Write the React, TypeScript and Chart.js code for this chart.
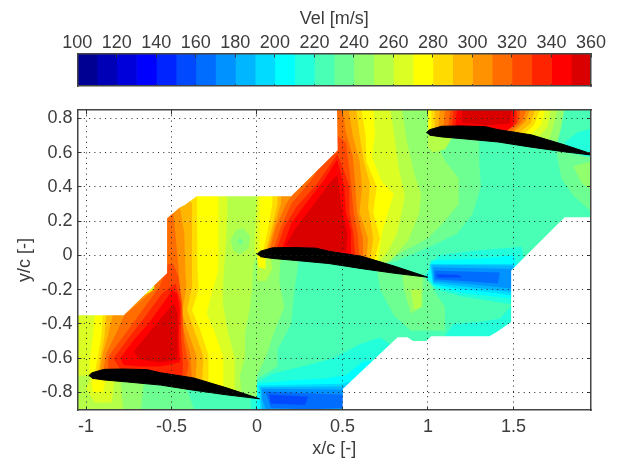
import React, { useEffect, useRef } from "react";
import { Chart, registerables } from "chart.js";

Chart.register(...registerables);

type P = [number, number];

const FONT = "'Liberation Sans', Arial, sans-serif";
const TEXT = "#3c3c3c";

const xTicks = [-1, -0.5, 0, 0.5, 1, 1.5];
const yTicks = [-0.8, -0.6, -0.4, -0.2, 0, 0.2, 0.4, 0.6, 0.8];
const barTicks = [100, 120, 140, 160, 180, 200, 220, 240, 260, 280, 300, 320, 340, 360];

// lower edge of every velocity band, with its colour
const bandEdges = [100, 110, 120, 130, 140, 150, 160, 170, 180, 190, 200, 210, 220, 230, 240, 250, 260, 270, 280, 290, 300, 310, 320, 330, 340, 350];
const bandColors = [
  "rgb(0,0,146)", "rgb(0,0,182)", "rgb(0,0,219)", "rgb(0,0,255)", "rgb(0,36,255)", "rgb(0,73,255)",
  "rgb(0,109,255)", "rgb(0,146,255)", "rgb(0,182,255)", "rgb(0,219,255)", "rgb(0,255,255)", "rgb(36,255,219)",
  "rgb(73,255,182)", "rgb(109,255,146)", "rgb(146,255,109)", "rgb(182,255,73)", "rgb(219,255,36)", "rgb(255,255,0)",
  "rgb(255,219,0)", "rgb(255,182,0)", "rgb(255,146,0)", "rgb(255,109,0)", "rgb(255,73,0)", "rgb(255,36,0)",
  "rgb(255,0,0)", "rgb(219,0,0)",
];

// measured field: iso-velocity regions, x/c and y/c, painted in order
const fieldBase: P[] = [[-1.06, -0.92], [1.96, -0.92], [1.96, 0.86], [-1.06, 0.86]];

const above230: P[] = [[-0.1, 0.86], [1.0, 0.86], [1.0, 0.7], [1.3, 0.68], [1.3, 0.55], [1.31, 0.4], [1.26, 0.24], [1.17, 0.126], [1.01, 0.05], [0.82, -0.03], [0.72, -0.06], [0.6, -0.04], [0.4, -0.01], [0, 0], [-0.1, 0]];
const above240: P[] = [[-1.06, 0.86], [1.0, 0.86], [1.04, 0.68], [1.1, 0.55], [1.18, 0.45], [1.18, 0.3], [1.1, 0.2], [1.0, 0.1], [0.85, 0.02], [0.72, -0.06], [0.6, -0.04], [0.4, -0.01], [0.2, 0.005], [0, 0], [0, -0.84], [-1.06, -0.84]];
const above250: P[] = [[-1.06, 0.86], [0.847, 0.86], [0.876, 0.67], [0.92, 0.476], [0.96, 0.36], [0.95, 0.25], [0.885, 0.087], [0.78, -0.03], [0.72, -0.06], [0.6, -0.04], [0.4, -0.01], [0.2, 0.005], [0, 0], [-0.02, -0.05], [-0.03, -0.2], [-0.04, -0.3], [-0.07, -0.45], [-0.07, -0.6], [-0.1, -0.7], [-0.09, -0.82], [-1.06, -0.82]];
const bubble240: P[] = [[-0.155, 0.09], [-0.12, 0.15], [-0.08, 0.16], [-0.04, 0.11], [-0.05, 0.04], [-0.1, 0.005], [-0.14, 0.03]];
const bubble230: P[] = [[-0.115, 0.08], [-0.1, 0.1], [-0.08, 0.08], [-0.09, 0.06]];

const a260: P[] = [[-1.06, 0.86], [-0.158, 0.86], [-0.178, 0.126], [-0.197, -0.146], [-0.2, -0.28], [-0.17, -0.45], [-0.13, -0.6], [-0.13, -0.8], [-1.06, -0.8]];
const a270: P[] = [[-0.95, -0.35], [-0.96, -0.476], [-0.979, -0.611], [-0.979, -0.728], [-0.197, -0.8], [-0.197, -0.592], [-0.245, -0.456], [-0.294, -0.339], [-0.265, -0.223], [-0.226, -0.087], [-0.226, 0.36], [-0.6, 0.36], [-0.6, -0.2]];
const a280: P[] = [[-0.902, -0.35], [-0.911, -0.476], [-0.931, -0.592], [-0.95, -0.695], [-0.8, -0.69], [-0.6, -0.71], [-0.4, -0.745], [-0.284, -0.775], [-0.284, -0.582], [-0.332, -0.437], [-0.38, -0.32], [-0.342, -0.203], [-0.348, -0.087], [-0.352, 0.36], [-0.6, 0.36], [-0.6, -0.2]];
const a290: P[] = [[-0.882, -0.35], [-0.892, -0.476], [-0.911, -0.582], [-0.931, -0.695], [-0.8, -0.69], [-0.6, -0.71], [-0.4, -0.745], [-0.323, -0.765], [-0.313, -0.592], [-0.361, -0.456], [-0.409, -0.32], [-0.38, -0.184], [-0.38, -0.087], [-0.38, 0.301], [-0.42, 0.36], [-0.6, 0.36], [-0.6, -0.2]];
const a300: P[] = [[-0.844, -0.35], [-0.873, -0.476], [-0.902, -0.572], [-0.921, -0.695], [-0.8, -0.69], [-0.6, -0.71], [-0.4, -0.745], [-0.36, -0.755], [-0.352, -0.592], [-0.4, -0.456], [-0.438, -0.339], [-0.413, -0.184], [-0.419, -0.087], [-0.425, 0.126], [-0.448, 0.262], [-0.47, 0.36], [-0.6, 0.36], [-0.6, -0.2]];
const a310: P[] = [[-0.776, -0.35], [-0.824, -0.456], [-0.882, -0.572], [-0.902, -0.695], [-0.8, -0.69], [-0.6, -0.71], [-0.38, -0.75], [-0.39, -0.582], [-0.429, -0.437], [-0.444, -0.32], [-0.458, -0.165], [-0.458, -0.087], [-0.477, 0.126], [-0.487, 0.223], [-0.5, 0.36], [-0.6, 0.36], [-0.6, -0.2]];
const a320: P[] = [[-0.87, -0.592], [-0.77, -0.456], [-0.67, -0.32], [-0.57, -0.184], [-0.52, -0.05], [-0.49, -0.05], [-0.458, -0.126], [-0.438, -0.281], [-0.429, -0.495], [-0.4, -0.64], [-0.42, -0.74], [-0.6, -0.71], [-0.8, -0.69], [-0.87, -0.69]];
const a330: P[] = [[-0.84, -0.602], [-0.745, -0.476], [-0.655, -0.359], [-0.555, -0.223], [-0.477, -0.165], [-0.444, -0.281], [-0.444, -0.476], [-0.433, -0.631], [-0.44, -0.74], [-0.564, -0.7], [-0.79, -0.68]];
const a340: P[] = [[-0.8, -0.6], [-0.72, -0.495], [-0.635, -0.398], [-0.55, -0.281], [-0.496, -0.204], [-0.467, -0.223], [-0.452, -0.32], [-0.458, -0.476], [-0.452, -0.625], [-0.564, -0.65], [-0.68, -0.65], [-0.78, -0.64]];
const a350: P[] = [[-0.72, -0.56], [-0.635, -0.456], [-0.555, -0.359], [-0.487, -0.281], [-0.464, -0.339], [-0.467, -0.476], [-0.464, -0.61], [-0.564, -0.625], [-0.69, -0.61]];

const b260: P[] = [[-0.014, 0.03], [0, 0.36], [0, 0.86], [0.78, 0.86], [0.808, 0.67], [0.828, 0.515], [0.865, 0.35], [0.845, 0.243], [0.818, 0.126], [0.77, 0.029], [0.7, -0.06], [0.4, -0.01], [0.2, 0.005], [0, 0]];
const b270: P[] = [[0.015, 0.03], [0.015, 0.86], [0.68, 0.86], [0.69, 0.709], [0.672, 0.573], [0.73, 0.43], [0.8, 0.36], [0.77, 0.262], [0.73, 0.126], [0.72, 0.049], [0.7, -0.06], [0.4, -0.01], [0.2, 0.005], [0.05, 0]];
const b280: P[] = [[0.035, 0.02], [0.06, 0.13], [0.09, 0.3], [0.1, 0.86], [0.61, 0.86], [0.635, 0.7], [0.64, 0.55], [0.7, 0.4], [0.68, 0.25], [0.72, 0.1], [0.68, -0.055], [0.4, -0.01], [0.2, 0.005]];
const b290: P[] = [[0.05, 0.02], [0.08, 0.13], [0.12, 0.3], [0.13, 0.86], [0.58, 0.86], [0.6, 0.7], [0.625, 0.55], [0.66, 0.42], [0.65, 0.28], [0.68, 0.1], [0.66, -0.05], [0.4, -0.01], [0.2, 0.005]];
const b300: P[] = [[0.06, 0.02], [0.09, 0.13], [0.14, 0.3], [0.16, 0.86], [0.535, 0.86], [0.56, 0.7], [0.6, 0.55], [0.615, 0.4], [0.6, 0.25], [0.65, 0.1], [0.64, -0.04], [0.4, -0.01], [0.2, 0.005]];
const b310: P[] = [[0.07, 0.02], [0.11, 0.165], [0.17, 0.3], [0.2, 0.345], [0.25, 0.86], [0.5, 0.86], [0.52, 0.72], [0.56, 0.58], [0.575, 0.42], [0.585, 0.25], [0.62, 0.1], [0.62, -0.03], [0.4, -0.01], [0.2, 0.005]];
const b320: P[] = [[0.09, 0.02], [0.14, 0.165], [0.2, 0.3], [0.33, 0.456], [0.47, 0.7], [0.52, 0.66], [0.55, 0.42], [0.565, 0.25], [0.59, 0.12], [0.6, -0.03], [0.4, -0.01], [0.2, 0.005]];
const b330: P[] = [[0.11, 0.02], [0.16, 0.165], [0.23, 0.282], [0.35, 0.417], [0.47, 0.59], [0.5, 0.52], [0.54, 0.4], [0.54, 0.25], [0.565, 0.12], [0.575, -0.02], [0.4, -0.01], [0.2, 0.005]];
const b340: P[] = [[0.14, 0.02], [0.2, 0.184], [0.27, 0.282], [0.39, 0.437], [0.469, 0.56], [0.51, 0.4], [0.52, 0.25], [0.55, 0.14], [0.55, -0.02], [0.4, -0.005], [0.2, 0.01]];
const b350: P[] = [[0.17, 0.06], [0.23, 0.165], [0.32, 0.282], [0.42, 0.417], [0.47, 0.47], [0.5, 0.25], [0.53, 0.12], [0.52, 0.02], [0.4, 0.03], [0.25, 0.04]];

const c240: P[] = [[0.995, 0.71], [0.995, 0.86], [1.8, 0.86], [1.78, 0.75], [1.75, 0.63], [1.59, 0.67], [1.39, 0.7], [1.19, 0.72]];
const c250: P[] = [[1.0, 0.71], [1.0, 0.86], [1.76, 0.86], [1.74, 0.78], [1.7, 0.64], [1.59, 0.67], [1.39, 0.7], [1.19, 0.72]];
const c260: P[] = [[1.0, 0.71], [1.0, 0.86], [1.72, 0.86], [1.7, 0.75], [1.62, 0.66], [1.39, 0.7], [1.19, 0.72]];
const c270: P[] = [[1.005, 0.71], [1.0, 0.86], [1.69, 0.86], [1.66, 0.76], [1.57, 0.675], [1.39, 0.7], [1.19, 0.72]];
const c280: P[] = [[1.02, 0.72], [1.02, 0.86], [1.66, 0.86], [1.62, 0.76], [1.53, 0.68], [1.39, 0.7], [1.19, 0.72]];
const c290: P[] = [[1.04, 0.73], [1.04, 0.86], [1.63, 0.86], [1.6, 0.77], [1.5, 0.69], [1.39, 0.7], [1.19, 0.72]];
const c300: P[] = [[1.06, 0.73], [1.07, 0.86], [1.6, 0.86], [1.57, 0.78], [1.47, 0.69], [1.39, 0.7], [1.19, 0.72]];
const c310: P[] = [[1.09, 0.73], [1.1, 0.86], [1.58, 0.86], [1.55, 0.78], [1.45, 0.69], [1.39, 0.7], [1.19, 0.72]];
const c320: P[] = [[1.12, 0.73], [1.13, 0.86], [1.54, 0.86], [1.53, 0.78], [1.43, 0.7], [1.19, 0.72]];
const c330: P[] = [[1.14, 0.74], [1.15, 0.86], [1.52, 0.86], [1.52, 0.77], [1.42, 0.7], [1.19, 0.72]];
const c340: P[] = [[1.16, 0.75], [1.17, 0.86], [1.51, 0.86], [1.5, 0.76], [1.42, 0.7], [1.19, 0.72]];
const c350: P[] = [[1.2, 0.775], [1.2, 0.86], [1.49, 0.86], [1.48, 0.77], [1.35, 0.76]];
const cRight210: P[] = [[1.8, 0.66], [1.88, 0.72], [1.96, 0.74], [1.96, 0.57], [1.85, 0.6]];
const cBelow230: P[] = [[1.75, 0.61], [1.96, 0.57], [1.96, 0.25], [1.85, 0.35], [1.78, 0.45]];
const cBelow240: P[] = [[1.85, 0.52], [1.96, 0.55], [1.96, 0.38], [1.9, 0.42]];
const cUnder250: P[] = [[1.0, 0.7], [1.15, 0.7], [1.1, 0.62], [1.03, 0.6], [1.0, 0.63]];

const underB220: P[] = [[0, 0], [0.2, 0.005], [0.4, -0.01], [0.6, -0.04], [0.8, -0.09], [1.0, -0.13], [1.0, -0.92], [0, -0.92]];
const underB230L: P[] = [[0, 0], [0.25, 0.005], [0.22, -0.2], [0.2, -0.4], [0.12, -0.55], [0.12, -0.65], [0, -0.72]];
const underB230R: P[] = [[0.7, -0.07], [1.0, -0.13], [1.03, -0.2], [1.1, -0.3], [1.1, -0.44], [0.9, -0.44], [0.8, -0.35], [0.72, -0.2]];
const underB240L: P[] = [[0, 0], [0.14, 0.005], [0.13, -0.15], [0.16, -0.3], [0.1, -0.45], [0.05, -0.6], [0, -0.7]];
const underB240R: P[] = [[0.85, -0.1], [0.97, -0.125], [0.97, -0.3], [0.9, -0.34], [0.86, -0.2]];
const underB250L: P[] = [[0, 0], [0.08, 0.005], [0.09, -0.08], [0.05, -0.15], [0, -0.15]];
const underB250R: P[] = [[0.9, -0.2], [0.96, -0.2], [0.96, -0.3], [0.92, -0.32]];
const underB270: P[] = [[0, 0], [0.05, 0], [0.05, -0.08], [0.01, -0.07]];

const underA240: P[] = [[-0.97, -0.705], [-0.8, -0.7], [-0.6, -0.72], [-0.4, -0.75], [-0.2, -0.8], [0.02, -0.84], [0.02, -0.92], [-1.06, -0.92], [-1.06, -0.72]];
const underA250: P[] = [[-1.06, -0.7], [-0.97, -0.705], [-0.8, -0.7], [-0.78, -0.92], [-1.06, -0.92]];
const underA260: P[] = [[-0.97, -0.705], [-0.83, -0.7], [-0.85, -0.86], [-0.95, -0.86], [-1.0, -0.78]];
const underA270: P[] = [[-0.97, -0.705], [-0.88, -0.7], [-0.9, -0.8], [-0.96, -0.8]];
const underA230: P[] = [[-0.66, -0.72], [-0.4, -0.75], [-0.2, -0.8], [0.02, -0.84], [0.02, -0.92], [-0.68, -0.92]];
const underA220: P[] = [[-0.42, -0.76], [-0.2, -0.8], [0.02, -0.84], [0.02, -0.92], [-0.36, -0.92]];
const underA210: P[] = [[-0.04, -0.82], [0.02, -0.84], [0.02, -0.92], [-0.03, -0.92]];

const wakeA210: P[] = [[0.09, -0.69], [0.3, -0.64], [0.45, -0.6], [0.6, -0.52], [0.72, -0.48], [0.9, -0.6], [0.7, -0.92], [0, -0.92], [0, -0.74]];
const wakeA200: P[] = [[0, -0.75], [0.2, -0.73], [0.4, -0.72], [0.52, -0.7], [0.62, -0.62], [0.9, -0.6], [0.7, -0.92], [0, -0.92]];
const wakeA190: P[] = [[0.01, -0.76], [0.5, -0.75], [0.6, -0.72], [0.6, -0.92], [0.02, -0.92]];
const wakeA180: P[] = [[0.02, -0.77], [0.55, -0.765], [0.55, -0.92], [0.03, -0.92]];
const wakeA170: P[] = [[0.03, -0.78], [0.55, -0.785], [0.55, -0.92], [0.06, -0.92], [0.03, -0.84]];
const wakeA160: P[] = [[0.05, -0.795], [0.51, -0.815], [0.51, -0.89], [0.3, -0.9], [0.08, -0.89]];
const wakeA150: P[] = [[0.07, -0.815], [0.3, -0.825], [0.28, -0.875], [0.08, -0.865]];

const wakeB210: P[] = [[0.98, -0.12], [1.06, 0], [1.3, 0.03], [1.55, 0.05], [1.6, -0.3], [1.45, -0.28], [1.2, -0.24], [1.05, -0.2], [1.0, -0.15]];
const wakeB200: P[] = [[1.0, -0.13], [1.02, -0.03], [1.3, -0.02], [1.5, 0], [1.6, -0.28], [1.48, -0.25], [1.2, -0.22], [1.04, -0.18]];
const wakeB190: P[] = [[1.01, -0.05], [1.5, -0.05], [1.6, -0.25], [1.4, -0.22], [1.2, -0.2], [1.03, -0.17]];
const wakeB180: P[] = [[1.02, -0.055], [1.5, -0.06], [1.6, -0.23], [1.45, -0.21], [1.2, -0.18], [1.03, -0.16]];
const wakeB170: P[] = [[1.03, -0.07], [1.5, -0.08], [1.6, -0.21], [1.45, -0.19], [1.2, -0.165], [1.035, -0.15]];
const wakeB160: P[] = [[1.04, -0.09], [1.42, -0.1], [1.41, -0.165], [1.2, -0.15], [1.04, -0.14]];
const wakeB150: P[] = [[1.05, -0.11], [1.18, -0.115], [1.2, -0.13], [1.06, -0.13]];
const edge210: P[] = [[1.1, -0.47], [1.15, -0.4], [1.3, -0.39], [1.42, -0.37], [1.5, -0.28], [1.5, -0.5], [1.1, -0.5]];

// areas without measurements
const emptyUpper: P[] = [[-1.06, 0.87], [-1.06, -0.35], [-0.78, -0.35], [-0.57, -0.146], [-0.526, -0.105], [-0.526, 0.216], [-0.452, 0.28], [-0.42, 0.295], [-0.353, 0.345], [0.2, 0.345], [0.472, 0.614], [0.468, 0.87]];
const emptyLower: P[] = [[1.97, 0.222], [1.8, 0.222], [1.487, -0.088], [1.487, -0.39], [1.4, -0.449], [1.36, -0.472], [1.02, -0.472], [0.99, -0.5], [0.913, -0.5], [0.88, -0.478], [0.823, -0.478], [0.503, -0.78], [0.5, -0.92], [1.97, -0.92]];

// blade sections
const bladeA: P[] = [[-0.985, -0.704], [-0.965, -0.686], [-0.895, -0.666], [-0.785, -0.664], [-0.641, -0.668], [-0.564, -0.686], [-0.371, -0.716], [-0.178, -0.774], [0.015, -0.838], [-0.178, -0.815], [-0.371, -0.788], [-0.564, -0.758], [-0.757, -0.74], [-0.895, -0.728], [-0.965, -0.718]];
const bladeB: P[] = [[0, 0.006], [0.02, 0.024], [0.09, 0.044], [0.2, 0.046], [0.344, 0.042], [0.421, 0.024], [0.614, -0.006], [0.807, -0.064], [1.0, -0.128], [0.807, -0.105], [0.614, -0.078], [0.421, -0.048], [0.228, -0.03], [0.09, -0.018], [0.02, -0.008]];
const bladeC: P[] = [[0.99, 0.716], [1.01, 0.734], [1.08, 0.754], [1.19, 0.756], [1.334, 0.752], [1.411, 0.734], [1.604, 0.704], [1.797, 0.646], [1.99, 0.582], [1.797, 0.605], [1.604, 0.632], [1.411, 0.662], [1.218, 0.68], [1.08, 0.692], [1.01, 0.702]];

const layerLevels: number[] = [
  220, 230, 240, 250, 240, 230,
  260, 270, 280, 290, 300, 310, 320, 330, 340, 350,
  260, 270, 280, 290, 300, 310, 320, 330, 340, 350,
  240, 250, 260, 270, 280, 290, 300, 310, 320, 330, 340, 350,
  210, 230, 240, 250,
  220, 230, 230, 240, 240, 250, 250, 270,
  240, 250, 260, 270, 230, 220, 210,
  210, 200, 190, 180, 170, 160, 150,
  210, 200, 190, 180, 170, 160, 150, 210,
];
const layerPaths: P[][] = [
  fieldBase, above230, above240, above250, bubble240, bubble230,
  a260, a270, a280, a290, a300, a310, a320, a330, a340, a350,
  b260, b270, b280, b290, b300, b310, b320, b330, b340, b350,
  c240, c250, c260, c270, c280, c290, c300, c310, c320, c330, c340, c350,
  cRight210, cBelow230, cBelow240, cUnder250,
  underB220, underB230L, underB230R, underB240L, underB240R, underB250L, underB250R, underB270,
  underA240, underA250, underA260, underA270, underA230, underA220, underA210,
  wakeA210, wakeA200, wakeA190, wakeA180, wakeA170, wakeA160, wakeA150,
  wakeB210, wakeB200, wakeB190, wakeB180, wakeB170, wakeB160, wakeB150, edge210,
];
const emptyPaths: P[][] = [emptyUpper, emptyLower];
const bladePaths: P[][] = [bladeA, bladeB, bladeC];

const region = (path: P[], color: string) => ({
  data: path.map(([x, y]) => ({ x, y })),
  showLine: true,
  fill: "shape",
  tension: 0,
  backgroundColor: color,
  borderColor: color,
  borderWidth: 0,
  pointRadius: 0,
});

const tickLabel = (v: number | string) => String(Math.round(Number(v) * 100) / 100);

export default function App() {
  const barRef = useRef<HTMLCanvasElement>(null);
  const mainRef = useRef<HTMLCanvasElement>(null);

  useEffect(() => {
    const tickFont = { family: FONT, size: 18 };

    const ordered = [
      ...layerPaths.map((p, i) => region(p, bandColors[bandEdges.indexOf(layerLevels[i])])),
      ...emptyPaths.map((p) => region(p, "#ffffff")),
      ...bladePaths.map((p) => ({ ...region(p, "#000000"), borderWidth: 1 })),
    ];

    const hiddenAxis = (position: string, min: number, max: number, ticks: number[], dash: number[], vertical: boolean) => ({
      type: "linear",
      position,
      min,
      max,
      afterBuildTicks: (s: any) => { s.ticks = ticks.map((value) => ({ value })); },
      afterFit: (s: any) => { if (vertical) s.width = 0; else s.height = 0; },
      ticks: { display: false },
      grid: { display: true, drawTicks: false, color: "#333", lineWidth: 1, z: 2 },
      border: { display: true, color: "#444", width: 1.5, dash, z: 2 },
    });

    const main = new Chart(mainRef.current!, {
      type: "scatter",
      data: { datasets: [...ordered].reverse() as any },
      options: {
        animation: false,
        responsive: false,
        events: [],
        layout: { padding: { left: 0, right: 43, top: 110, bottom: 0 } },
        plugins: { legend: { display: false }, tooltip: { enabled: false } },
        scales: {
          x: {
            type: "linear",
            min: -1.05,
            max: 1.954,
            afterBuildTicks: (s: any) => { s.ticks = xTicks.map((value) => ({ value })); },
            afterFit: (s: any) => { s.height = 51; },
            ticks: { callback: tickLabel, font: tickFont, color: TEXT, padding: 6, maxRotation: 0, autoSkip: false },
            grid: { drawTicks: false, color: "#222", lineWidth: 1, z: 1 },
            border: { display: true, color: "#444", width: 1.5, dash: [1, 4.3], z: 2 },
            title: { display: true, text: "x/c [-]", font: tickFont, color: TEXT, padding: { top: 0, bottom: 1 } },
          },
          y: {
            type: "linear",
            min: -0.9035,
            max: 0.849,
            afterBuildTicks: (s: any) => { s.ticks = yTicks.map((value) => ({ value })); },
            afterFit: (s: any) => { s.width = 77.5; },
            ticks: { callback: tickLabel, font: tickFont, color: TEXT, padding: 5, autoSkip: false },
            grid: { drawTicks: false, color: "#222", lineWidth: 1, z: 1 },
            border: { display: true, color: "#444", width: 1.5, dash: [1, 4.3], z: 2 },
            title: { display: true, text: "y/c [-]", font: tickFont, color: TEXT, padding: { top: 14, bottom: 0 } },
          },
          x2: hiddenAxis("top", -1.05, 1.954, xTicks, [4, 292, 4, 0], false),
          y2: hiddenAxis("right", -0.9035, 0.849, yTicks, [4, 505.5, 4, 0], true),
        } as any,
      },
    } as any);

    const bar = new Chart(barRef.current!, {
      type: "bar",
      data: {
        labels: ["Vel"],
        datasets: bandEdges.map((edge, i) => ({
          data: [[edge, i + 1 < bandEdges.length ? bandEdges[i + 1] : barTicks[barTicks.length - 1]]],
          backgroundColor: bandColors[i],
          borderWidth: 0,
          barPercentage: 1,
          categoryPercentage: 1,
          grouped: false,
        })) as any,
      },
      options: {
        indexAxis: "y",
        animation: false,
        responsive: false,
        events: [],
        layout: { padding: { left: 0, right: 43, top: 0, bottom: 14 } },
        plugins: { legend: { display: false }, tooltip: { enabled: false } },
        scales: {
          x: {
            type: "linear",
            position: "top",
            min: 100,
            max: 360,
            afterBuildTicks: (s: any) => { s.ticks = barTicks.map((value) => ({ value })); },
            afterFit: (s: any) => { s.height = 53.3; },
            ticks: { font: tickFont, color: TEXT, padding: -1, maxRotation: 0, autoSkip: false },
            grid: { drawTicks: false, color: "#333", lineWidth: 1, z: 1 },
            border: { display: true, color: "#444", width: 1.5, dash: [3, 26.7, 3, 0], z: 2 },
            title: { display: true, text: "Vel [m/s]", font: tickFont, color: TEXT, padding: { top: 8, bottom: 2 } },
          },
          y: {
            type: "category",
            afterFit: (s: any) => { s.width = 77.3; },
            ticks: { display: false },
            grid: { display: false },
            border: { display: true, color: "#444", width: 1.5, z: 2 },
          },
          x2: { ...hiddenAxis("bottom", 100, 360, barTicks, [0, 40], false), grid: { display: false } },
          y2: { ...hiddenAxis("right", 0, 1, [], [0, 40], true), grid: { display: false } },
        } as any,
      },
    } as any);

    return () => {
      main.destroy();
      bar.destroy();
    };
  }, []);

  return (
    <div style={{ position: "absolute", left: 0, top: 0, width: 634, height: 461, background: "#fff", overflow: "hidden" }}>
      <canvas ref={mainRef} width={634} height={461} style={{ position: "absolute", left: 0, top: 0, display: "block" }} />
      <canvas ref={barRef} width={634} height={100} style={{ position: "absolute", left: 0, top: 0, display: "block" }} />
    </div>
  );
}
